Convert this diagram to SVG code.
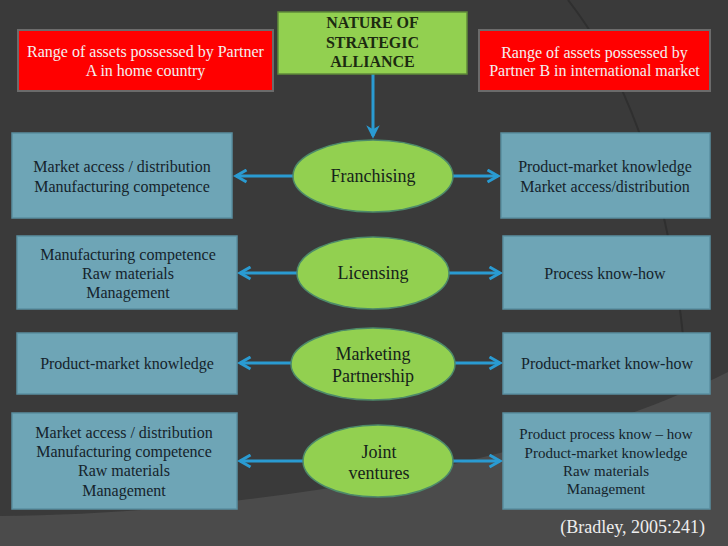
<svg xmlns="http://www.w3.org/2000/svg" width="728" height="546" viewBox="0 0 728 546">
<defs>
<style>
.red{fill:#ff0000;stroke:#6b6b6b;stroke-width:2}
.grn{fill:#92d050;stroke:#5f8a3a;stroke-width:1.5}
.ell{fill:#92d050;stroke:#4d8a6a;stroke-width:1.5}
.box{fill:#6ea5b6;stroke:#5a8fa0;stroke-width:1.5}
.t{font-family:"Liberation Serif","Times New Roman",serif;font-size:16px;text-anchor:middle}
.w{fill:#f4f0f0}
.d{fill:#15232b}
.b{font-weight:bold;fill:#1c2a10}
.e{font-size:18px;fill:#15231a}
.s{font-size:15px}
.c{stroke:#2a9bd2;stroke-width:3;fill:none}
</style>
<marker id="ah" viewBox="0 0 10 10" refX="8" refY="5" markerWidth="5" markerHeight="5" orient="auto" markerUnits="strokeWidth">
<path d="M1,1 L8,5 L1,9" fill="none" stroke="#2a9bd2" stroke-width="2"/>
</marker>
<marker id="ahd" viewBox="0 0 10 10" refX="8" refY="5" markerWidth="4.5" markerHeight="4.5" orient="auto" markerUnits="strokeWidth">
<path d="M0,0 L10,5 L0,10 L3,5 Z" fill="#2a9bd2"/>
</marker>
</defs>
<rect width="728" height="546" fill="#3a3a3a"/>
<path d="M0,516 C250,514 550,462 728,372 L728,546 L0,546 Z" fill="#4b4b4b"/>
<path d="M568,0 Q662,120 684,345" fill="none" stroke="#2f2f2f" stroke-width="2"/>

<g id="connectors">
<line class="c" x1="373" y1="74" x2="373" y2="136" marker-end="url(#ahd)"/>
<line class="c" x1="293" y1="176" x2="236" y2="176" marker-end="url(#ah)"/>
<line class="c" x1="453" y1="176" x2="498" y2="176" marker-end="url(#ah)"/>
<line class="c" x1="297" y1="273" x2="240" y2="273" marker-end="url(#ah)"/>
<line class="c" x1="449" y1="273" x2="500" y2="273" marker-end="url(#ah)"/>
<line class="c" x1="291" y1="363" x2="240" y2="363" marker-end="url(#ah)"/>
<line class="c" x1="455" y1="363" x2="500" y2="363" marker-end="url(#ah)"/>
<line class="c" x1="303" y1="461" x2="240" y2="461" marker-end="url(#ah)"/>
<line class="c" x1="453" y1="461" x2="500" y2="461" marker-end="url(#ah)"/>
</g>

<g id="partnerA">
<rect class="red" x="18" y="30" width="255" height="61"/>
<text class="t w" x="145.5" y="57">Range of assets possessed by Partner</text>
<text class="t w" x="145.5" y="76">A in home country</text>
</g>
<g id="nature">
<rect class="grn" x="278" y="12" width="189" height="62"/>
<text class="t b" x="372.5" y="28">NATURE OF</text>
<text class="t b" x="372.5" y="48">STRATEGIC</text>
<text class="t b" x="372.5" y="67">ALLIANCE</text>
</g>
<g id="partnerB">
<rect class="red" x="479" y="30" width="231" height="61"/>
<text class="t w" x="594.5" y="58">Range of assets possessed by</text>
<text class="t w" x="594.5" y="76">Partner B in international market</text>
</g>

<g id="franchising">
<ellipse class="ell" cx="373" cy="176" rx="80" ry="36"/>
<text class="t e" x="373" y="182">Franchising</text>
</g>
<g id="licensing">
<ellipse class="ell" cx="373" cy="273" rx="76" ry="36"/>
<text class="t e" x="373" y="279">Licensing</text>
</g>
<g id="marketing">
<ellipse class="ell" cx="373" cy="364" rx="82" ry="36"/>
<text class="t e" x="373" y="360">Marketing</text>
<text class="t e" x="373" y="382">Partnership</text>
</g>
<g id="joint">
<ellipse class="ell" cx="378" cy="461" rx="75" ry="36"/>
<text class="t e" x="379" y="458">Joint</text>
<text class="t e" x="379" y="479">ventures</text>
</g>

<g id="left1">
<rect class="box" x="12" y="133" width="220" height="85"/>
<text class="t d" x="122" y="172">Market access / distribution</text>
<text class="t d" x="122" y="192">Manufacturing competence</text>
</g>
<g id="left2">
<rect class="box" x="17" y="236" width="220" height="73"/>
<text class="t d" x="128" y="260">Manufacturing competence</text>
<text class="t d" x="128" y="279">Raw materials</text>
<text class="t d" x="128" y="298">Management</text>
</g>
<g id="left3">
<rect class="box" x="17" y="333" width="220" height="61"/>
<text class="t d" x="127" y="369">Product-market knowledge</text>
</g>
<g id="left4">
<rect class="box" x="12" y="413" width="225" height="96"/>
<text class="t d" x="124" y="438">Market access / distribution</text>
<text class="t d" x="124" y="457">Manufacturing competence</text>
<text class="t d" x="124" y="476">Raw materials</text>
<text class="t d" x="124" y="496">Management</text>
</g>

<g id="right1">
<rect class="box" x="501" y="133" width="209" height="85"/>
<text class="t d" x="605" y="172">Product-market knowledge</text>
<text class="t d" x="605" y="192">Market access/distribution</text>
</g>
<g id="right2">
<rect class="box" x="503" y="236" width="207" height="73"/>
<text class="t d" x="605" y="279">Process know-how</text>
</g>
<g id="right3">
<rect class="box" x="503" y="333" width="207" height="61"/>
<text class="t d" x="607" y="369">Product-market know-how</text>
</g>
<g id="right4">
<rect class="box" x="503" y="413" width="207" height="96"/>
<text class="t d s" x="606" y="439">Product process know – how</text>
<text class="t d s" x="606" y="458">Product-market knowledge</text>
<text class="t d s" x="606" y="476">Raw materials</text>
<text class="t d s" x="606" y="494">Management</text>
</g>

<text class="t" x="705" y="533" style="text-anchor:end;font-size:18px;fill:#eeeeee">(Bradley, 2005:241)</text>
</svg>
